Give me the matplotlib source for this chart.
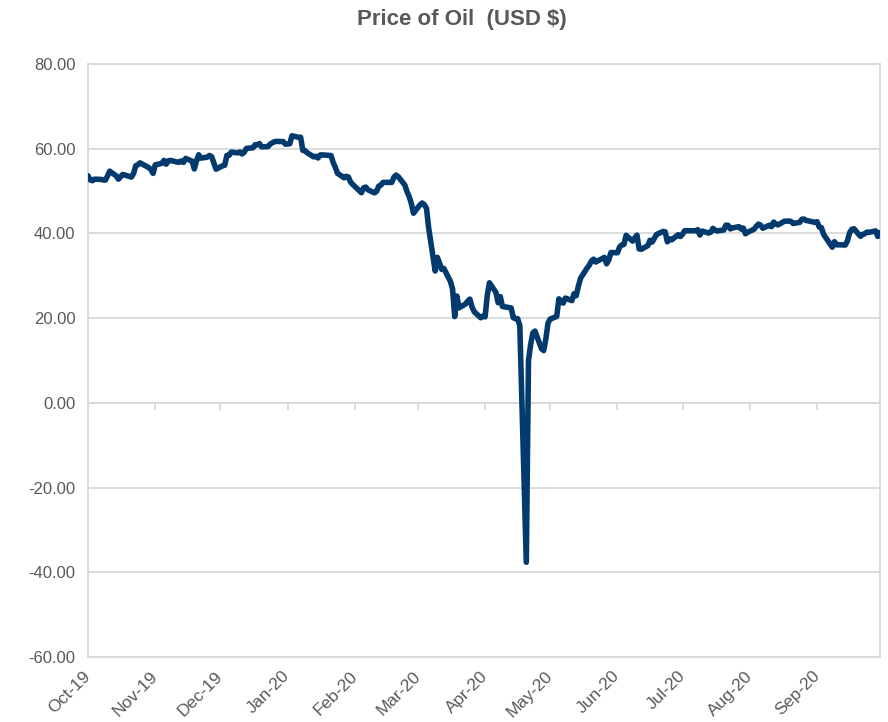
import datetime as dt
import matplotlib
matplotlib.use("Agg")
import matplotlib.pyplot as plt
import matplotlib.dates as mdates
from matplotlib.ticker import FormatStrFormatter

# WTI daily closes, one list per month (trading days only)
MONTHS = [(2019, 10), (2019, 11), (2019, 12), (2020, 1), (2020, 2), (2020, 3),
          (2020, 4), (2020, 5), (2020, 6), (2020, 7), (2020, 8), (2020, 9)]

TRADING_DAYS = [
    [1, 2, 3, 4, 7, 8, 9, 10, 11, 14, 15, 16, 17, 18, 21, 22, 23, 24, 25, 28, 29, 30, 31],
    [1, 4, 5, 6, 7, 8, 11, 12, 13, 14, 15, 18, 19, 20, 21, 22, 25, 26, 27, 29],
    [2, 3, 4, 5, 6, 9, 10, 11, 12, 13, 16, 17, 18, 19, 20, 23, 24, 26, 27, 30, 31],
    [2, 3, 6, 7, 8, 9, 10, 13, 14, 15, 16, 17, 21, 22, 23, 24, 27, 28, 29, 30, 31],
    [3, 4, 5, 6, 7, 10, 11, 12, 13, 14, 18, 19, 20, 21, 24, 25, 26, 27, 28],
    [2, 3, 4, 5, 6, 9, 10, 11, 12, 13, 16, 17, 18, 19, 20, 23, 24, 25, 26, 27, 30, 31],
    [1, 2, 3, 6, 7, 8, 9, 13, 14, 15, 16, 17, 20, 21, 22, 23, 24, 27, 28, 29, 30],
    [1, 4, 5, 6, 7, 8, 11, 12, 13, 14, 15, 18, 19, 20, 21, 22, 26, 27, 28, 29],
    [1, 2, 3, 4, 5, 8, 9, 10, 11, 12, 15, 16, 17, 18, 19, 22, 23, 24, 25, 26, 29, 30],
    [1, 2, 6, 7, 8, 9, 10, 13, 14, 15, 16, 17, 20, 21, 22, 23, 24, 27, 28, 29, 30, 31],
    [3, 4, 5, 6, 7, 10, 11, 12, 13, 14, 17, 18, 19, 20, 21, 24, 25, 26, 27, 28, 31],
    [1, 2, 3, 4, 8, 9, 10, 11, 14, 15, 16, 17, 18, 21, 22, 23, 24, 25, 28, 29, 30],
]

CLOSES = [
    [53.62, 52.64, 52.45, 52.81, 52.75, 52.63, 52.59, 53.55, 54.70, 53.59, 52.81, 53.36,
     53.93, 53.78, 53.31, 54.16, 55.97, 56.23, 56.66, 55.81, 55.54, 55.06, 54.18],
    [56.20, 56.54, 57.23, 56.35, 57.15, 57.24, 56.86, 56.80, 57.12, 56.77, 57.72, 57.05,
     55.21, 57.11, 58.58, 57.77, 58.01, 58.41, 58.11, 55.17],
    [55.96, 56.10, 58.43, 58.43, 59.20, 59.02, 59.24, 58.76, 59.18, 60.07, 60.21, 60.94,
     60.93, 61.22, 60.44, 60.52, 61.11, 61.68, 61.72, 61.68, 61.06],
    [61.18, 63.05, 62.70, 62.70, 59.61, 59.56, 59.04, 58.08, 58.23, 57.81, 58.52, 58.54,
     58.38, 56.74, 55.59, 54.19, 53.14, 53.48, 53.33, 52.14, 51.56],
    [50.11, 49.61, 50.75, 50.95, 50.32, 49.57, 49.94, 51.17, 51.42, 52.05, 52.05, 53.29,
     53.78, 53.38, 51.43, 49.90, 48.73, 47.09, 44.76],
    [46.75, 47.18, 46.78, 45.90, 41.28, 31.13, 34.36, 32.98, 31.50, 31.73, 28.70, 26.95,
     20.37, 25.22, 22.43, 23.36, 24.01, 24.49, 22.60, 21.51, 20.09, 20.48],
    [20.31, 25.32, 28.34, 26.08, 23.63, 25.09, 22.76, 22.41, 20.11, 19.87, 19.87, 18.27,
     -37.63, 10.01, 13.78, 16.50, 16.94, 12.78, 12.34, 15.06, 18.84],
    [19.78, 20.39, 24.56, 23.99, 23.55, 24.74, 24.14, 25.78, 25.29, 27.56, 29.43, 31.82,
     32.50, 33.49, 33.92, 33.25, 34.35, 32.81, 33.71, 35.49],
    [35.44, 36.81, 37.29, 37.41, 39.55, 38.19, 38.94, 39.60, 36.34, 36.26, 37.12, 38.38,
     37.96, 38.84, 39.75, 40.46, 40.37, 38.01, 38.72, 38.49, 39.70, 39.27],
    [39.82, 40.65, 40.63, 40.62, 40.90, 39.62, 40.55, 40.10, 40.29, 41.20, 40.75, 40.59,
     40.81, 41.96, 41.90, 41.07, 41.29, 41.60, 41.04, 41.27, 39.92, 40.27],
    [41.01, 41.70, 42.19, 41.95, 41.22, 41.94, 41.61, 42.67, 42.24, 42.01, 42.89, 42.89,
     42.93, 42.82, 42.34, 42.62, 43.35, 43.39, 43.04, 42.97, 42.61],
    [42.76, 41.51, 41.37, 39.77, 36.76, 38.05, 37.30, 37.33, 37.26, 38.28, 40.16, 40.97,
     41.11, 39.31, 39.80, 39.93, 40.31, 40.25, 40.60, 39.29, 40.22],
]

TITLE = "Price of Oil  (USD $)"
Y_TICKS = [-60, -40, -20, 0, 20, 40, 60, 80]

LINE_COLOR = "#033a6e"
GRID_COLOR = "#d9d9d9"
TEXT_COLOR = "#595959"

dates, prices = [], []
for (year, month), days, vals in zip(MONTHS, TRADING_DAYS, CLOSES):
    dates += [dt.date(year, month, d) for d in days]
    prices += vals

plt.rcParams["font.family"] = ["Liberation Sans", "DejaVu Sans"]

fig = plt.figure(figsize=(8.88, 7.22), dpi=100)
ax = fig.add_axes([88 / 888, 1 - 657 / 722, 792 / 888, 593 / 722])

ax.plot(dates, prices, color=LINE_COLOR, lw=4.0, solid_joinstyle="round",
        solid_capstyle="round", zorder=3)

ax.set_ylim(-60, 80)
ax.set_yticks(Y_TICKS)
ax.yaxis.set_major_formatter(FormatStrFormatter("%.2f"))
ax.set_xlim(dt.date(2019, 10, 1), dt.date(2020, 9, 30))
ax.xaxis.set_major_locator(mdates.MonthLocator())
ax.xaxis.set_major_formatter(mdates.DateFormatter("%b-%y"))

ax.grid(axis="y", color=GRID_COLOR, lw=1.3, zorder=0)
ax.set_axisbelow(True)
for s in ax.spines.values():
    s.set_color(GRID_COLOR)
    s.set_linewidth(1.3)

ax.tick_params(axis="y", length=0, pad=9, labelsize=12, labelcolor=TEXT_COLOR)
ax.tick_params(axis="x", length=0, pad=12, labelsize=12.5, labelcolor=TEXT_COLOR)
for lbl in ax.get_xticklabels():
    lbl.set_rotation(45)
    lbl.set_ha("right")
    lbl.set_va("center")
    lbl.set_rotation_mode("anchor")

# zero line with month tick marks, like the Excel category axis
zero_ax = ax.secondary_xaxis(60 / 140)
zero_ax.xaxis.set_major_locator(mdates.MonthLocator())
zero_ax.spines["bottom"].set_color(GRID_COLOR)
zero_ax.spines["bottom"].set_linewidth(1.3)
zero_ax.tick_params(axis="x", direction="out", length=5, width=1.3,
                    color=GRID_COLOR, labelbottom=False)

fig.text(462 / 888, 1 - 20 / 722, TITLE, ha="center", va="center",
         fontsize=16, fontweight="bold", color=TEXT_COLOR)

fig.savefig("out.png", dpi=100)
